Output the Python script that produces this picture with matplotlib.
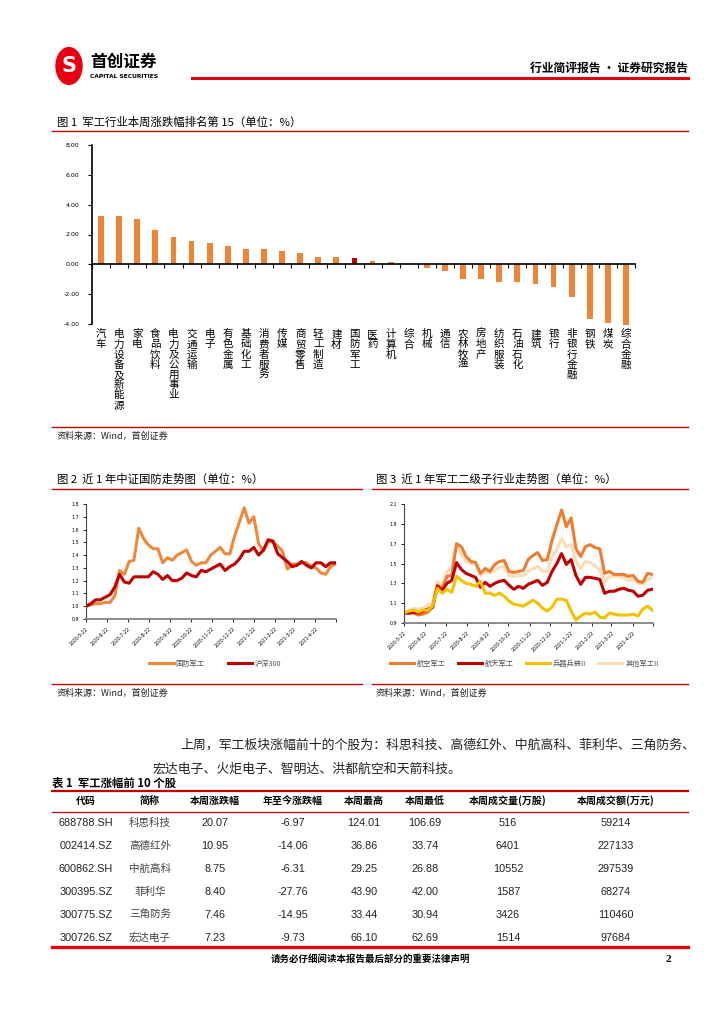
import numpy as np
import matplotlib
matplotlib.use('Agg')
import matplotlib.pyplot as plt
from matplotlib.lines import Line2D
from matplotlib.patches import Circle
import datetime as dt

plt.rcParams['font.family'] = ['Noto Sans CJK SC', 'DejaVu Sans']
plt.rcParams['axes.unicode_minus'] = False

# ---- 数据 ----
# 图1 行业周涨跌幅
industries = ['汽车', '电力设备及新能源', '家电', '食品饮料', '电力及公用事业', '交通运输', '电子',
              '有色金属', '基础化工', '消费者服务', '传媒', '商贸零售', '轻工制造', '建材', '国防军工',
              '医药', '计算机', '综合', '机械', '通信', '农林牧渔', '房地产', '纺织服装', '石油石化',
              '建筑', '银行', '非银行金融', '钢铁', '煤炭', '综合金融']
weekly_change = [3.27, 3.21, 3.01, 2.27, 1.85, 1.54, 1.43, 1.25, 1.02, 1.00, 0.91, 0.78, 0.51, 0.51,
                 0.45, 0.20, 0.16, 0.05, -0.22, -0.47, -0.98, -1.00, -1.18, -1.20, -1.33, -1.51,
                 -2.16, -3.64, -3.91, -4.07]
highlight = '国防军工'
bar_ticks = [8, 6, 4, 2, 0, -2, -4]

# 图2 近1年中证国防 vs 沪深300（周度）
guofang = [1.00, 1.01, 1.02, 1.02, 1.03, 1.03, 1.08, 1.28, 1.25, 1.35, 1.36, 1.61, 1.53, 1.48,
           1.45, 1.45, 1.34, 1.38, 1.36, 1.40, 1.42, 1.44, 1.35, 1.32, 1.34, 1.34, 1.40, 1.43,
           1.46, 1.41, 1.41, 1.55, 1.66, 1.77, 1.65, 1.70, 1.49, 1.43, 1.51, 1.50, 1.47, 1.43,
           1.29, 1.33, 1.33, 1.34, 1.34, 1.31, 1.30, 1.26, 1.25, 1.31, 1.33]
hs300 = [1.00, 1.02, 1.05, 1.05, 1.07, 1.09, 1.15, 1.25, 1.19, 1.18, 1.23, 1.23, 1.23, 1.23,
         1.27, 1.25, 1.21, 1.24, 1.20, 1.20, 1.22, 1.26, 1.24, 1.23, 1.28, 1.27, 1.29, 1.31,
         1.33, 1.28, 1.31, 1.33, 1.37, 1.43, 1.43, 1.46, 1.40, 1.44, 1.52, 1.51, 1.41, 1.38,
         1.35, 1.31, 1.32, 1.35, 1.32, 1.30, 1.34, 1.34, 1.31, 1.34, 1.34]

# 图3 军工二级子行业（周度）
hangkong = [1.00, 1.00, 1.00, 0.98, 0.99, 1.01, 1.06, 1.28, 1.25, 1.37, 1.38, 1.70, 1.67, 1.57,
            1.52, 1.51, 1.40, 1.45, 1.42, 1.49, 1.52, 1.53, 1.42, 1.41, 1.42, 1.43, 1.54, 1.58,
            1.61, 1.53, 1.54, 1.73, 1.89, 2.04, 1.87, 1.96, 1.65, 1.57, 1.67, 1.69, 1.66, 1.65,
            1.40, 1.42, 1.39, 1.39, 1.39, 1.37, 1.38, 1.32, 1.31, 1.40, 1.39]
hangtian = [1.00, 1.00, 1.01, 1.00, 1.02, 1.04, 1.06, 1.27, 1.23, 1.30, 1.33, 1.51, 1.44, 1.40,
            1.38, 1.36, 1.26, 1.31, 1.27, 1.30, 1.32, 1.33, 1.28, 1.24, 1.27, 1.25, 1.29, 1.31,
            1.33, 1.28, 1.31, 1.42, 1.50, 1.60, 1.49, 1.54, 1.38, 1.29, 1.36, 1.36, 1.35, 1.34,
            1.20, 1.22, 1.22, 1.24, 1.25, 1.23, 1.22, 1.17, 1.18, 1.23, 1.24]
bingqi = [1.00, 1.02, 1.03, 1.01, 1.03, 1.03, 1.07, 1.25, 1.20, 1.24, 1.21, 1.37, 1.33, 1.30,
          1.29, 1.27, 1.32, 1.20, 1.20, 1.18, 1.20, 1.17, 1.12, 1.09, 1.08, 1.07, 1.10, 1.13,
          1.10, 1.05, 1.02, 1.06, 1.14, 1.14, 1.13, 1.02, 0.93, 0.97, 1.00, 0.99, 1.01, 0.96,
          0.95, 1.00, 0.99, 0.98, 0.98, 0.98, 0.99, 0.97, 1.04, 1.07, 1.03]
qita = [1.00, 1.02, 1.05, 1.04, 1.05, 1.08, 1.11, 1.32, 1.28, 1.42, 1.45, 1.70, 1.60, 1.52,
        1.50, 1.50, 1.38, 1.42, 1.40, 1.43, 1.46, 1.47, 1.38, 1.37, 1.38, 1.38, 1.42, 1.45,
        1.47, 1.42, 1.42, 1.57, 1.64, 1.75, 1.67, 1.69, 1.52, 1.45, 1.52, 1.51, 1.48, 1.43,
        1.31, 1.37, 1.37, 1.37, 1.36, 1.33, 1.34, 1.30, 1.29, 1.33, 1.36]

start_date = dt.date(2020, 5, 22)
dates = [start_date + dt.timedelta(days=7 * i) for i in range(len(guofang))]
month_ticks = [dt.date(2020 + (4 + m) // 12, (4 + m) % 12 + 1, 22) for m in range(13)]
month_labels = ['%d-%d-22' % (d.year, d.month) for d in month_ticks[:-1]] + ['']

# 表1 军工涨幅前10个股
col_names = ['代码', '简称', '本周涨跌幅', '年至今涨跌幅', '本周最高', '本周最低', '本周成交量(万股)', '本周成交额(万元)']
codes = ['688788.SH', '002414.SZ', '600862.SH', '300395.SZ', '300775.SZ', '300726.SZ']
names = ['科思科技', '高德红外', '中航高科', '菲利华', '三角防务', '宏达电子']
chg_week = ['20.07', '10.95', '8.75', '8.40', '7.46', '7.23']
chg_ytd = ['-6.97', '-14.06', '-6.31', '-27.76', '-14.95', '-9.73']
high_week = ['124.01', '36.86', '29.25', '43.90', '33.44', '66.10']
low_week = ['106.69', '33.74', '26.88', '42.00', '30.94', '62.69']
volume = ['516', '6401', '10552', '1587', '3426', '1514']
amount = ['59214', '227133', '297539', '68274', '110460', '97684']

# ---- 页面 ----
W, H = 724, 1024
RED = '#C00000'
ORANGE = '#EE8535'
fig = plt.figure(figsize=(W / 100, H / 100), dpi=100)


def fx(x):
    return x / W


def fy(y):
    return 1 - y / H


def txt(x, y, s, **kw):
    fig.text(fx(x), fy(y), s, **kw)


def hline(x0, x1, y, lw, color=RED):
    fig.add_artist(Line2D([fx(x0), fx(x1)], [fy(y), fy(y)], lw=lw, color=color,
                          transform=fig.transFigure))


def box(left, top, right, bottom):
    return fig.add_axes([fx(left), fy(bottom), (right - left) / W, (bottom - top) / H])


# 页眉
fig.add_artist(Circle((fx(69), fy(66)), 13 / W, transform=fig.transFigure, color='#E60012'))
txt(69, 66, 'S', color='white', fontsize=15, fontweight='bold', ha='center', va='center',
    family=['DejaVu Sans'])
txt(90, 62, '首创证券', fontsize=12, fontweight='bold', va='center')
txt(90, 76, 'CAPITAL SECURITIES', fontsize=4.3, fontweight='bold', va='center', family=['DejaVu Sans'])
hline(192, 688, 78, 2.2, '#E60012')
txt(688, 68, '行业简评报告 · 证券研究报告', fontsize=8.5, fontweight='bold', ha='right', va='center')

# 图1
txt(57, 122, '图 1  军工行业本周涨跌幅排名第 15（单位：%）', fontsize=8.2, va='center')
hline(52, 688, 131, 1.0)
ax1 = box(92, 145, 635, 324)
x = np.arange(len(industries))
colors = [RED if c == highlight else ORANGE for c in industries]
ax1.bar(x, weekly_change, width=0.32, color=colors, clip_on=False)
ax1.set_xlim(-0.5, len(industries) - 0.5)
ax1.set_ylim(-4, 8)
ax1.set_yticks(bar_ticks)
ax1.set_yticklabels(['%.2f' % v for v in bar_ticks], fontsize=4.5, family=['DejaVu Sans'])
ax1.spines['bottom'].set_position(('data', 0))
for s in ['top', 'right']:
    ax1.spines[s].set_visible(False)
ax1.spines['left'].set_linewidth(1.2)
ax1.spines['bottom'].set_linewidth(1.2)
ax1.set_xticks(np.arange(len(industries) + 1) - 0.5)
ax1.set_xticklabels([])
ax1.tick_params(axis='x', direction='out', length=3, width=0.8)
ax1.tick_params(axis='y', direction='out', length=3, width=0.8, pad=6)
for i, name in enumerate(industries):
    ax1.text(i, -4.35, '\n'.join(name), ha='center', va='top', fontsize=7.6, linespacing=1.02)
hline(52, 688, 427, 1.0)
txt(57, 436, '资料来源：Wind，首创证券', fontsize=6.5, style='italic', va='center', color='#222222')


def line_panel(ax, series, cols, yticks, ylim):
    for s, c in zip(series, cols):
        ax.plot(dates, s, color=c, lw=2.2, solid_joinstyle='round')
    ax.set_xlim(dates[0], month_ticks[-1])
    ax.set_ylim(*ylim)
    ax.set_yticks(yticks)
    ax.set_yticklabels(['%.1f' % v for v in yticks], fontsize=3.4, family=['DejaVu Sans'])
    ax.set_xticks(month_ticks)
    ax.set_xticklabels(month_labels, fontsize=3.3, rotation=45, ha='right', va='top',
                       rotation_mode='anchor', family=['DejaVu Sans'])
    for s in ['top', 'right']:
        ax.spines[s].set_visible(False)
    ax.spines['left'].set_color('#444444')
    ax.spines['bottom'].set_color('#777777')
    ax.spines['bottom'].set_linewidth(1.2)
    ax.tick_params(axis='both', length=2, width=0.6, pad=3)


# 图2
txt(57, 479, '图 2  近 1 年中证国防走势图（单位：%）', fontsize=8.2, va='center')
hline(52, 362, 489, 1.0)
ax2 = box(86, 504, 336, 619)
line_panel(ax2, [guofang, hs300], ['#F0883A', RED], np.arange(0.9, 1.81, 0.1), (0.9, 1.8))
h2 = [Line2D([], [], color='#F0883A', lw=2.2), Line2D([], [], color=RED, lw=2.2)]
fig.legend(h2, ['国防军工', '沪深300'], loc='center', bbox_to_anchor=(fx(215), fy(664)), ncol=2,
           frameon=False, fontsize=5.2, handlelength=3.4, columnspacing=3.2, handletextpad=0.3,
           labelcolor='#555555')
hline(52, 362, 684, 1.0)
txt(57, 693, '资料来源：Wind，首创证券', fontsize=6.5, style='italic', va='center', color='#222222')

# 图3
txt(376, 479, '图 3  近 1 年军工二级子行业走势图（单位：%）', fontsize=8.2, va='center')
hline(372, 688, 489, 1.0)
ax3 = box(404, 504, 653, 623)
labels3 = ['航空军工', '航天军工', '兵器兵装II', '其他军工II']
cols3 = ['#ED7D31', RED, '#F2C100', '#FADDB8']
line_panel(ax3, [qita, hangkong, hangtian, bingqi], [cols3[3], cols3[0], cols3[1], cols3[2]],
           np.arange(0.9, 2.11, 0.2), (0.9, 2.1))
h3 = [Line2D([], [], color=c, lw=2.2) for c in cols3]
fig.legend(h3, labels3, loc='center', bbox_to_anchor=(fx(524), fy(664)), ncol=4, frameon=False,
           fontsize=5.2, handlelength=3.4, columnspacing=1.6, handletextpad=0.4, labelcolor='#555555')
hline(372, 688, 684, 1.0)
txt(376, 693, '资料来源：Wind，首创证券', fontsize=6.5, style='italic', va='center', color='#222222')

# 正文
txt(180, 745, '上周，军工板块涨幅前十的个股为：科思科技、高德红外、中航高科、菲利华、三角防务、',
    fontsize=9.3, va='center', color='#222222')
txt(152, 769, '宏达电子、火炬电子、智明达、洪都航空和天箭科技。', fontsize=9.3, va='center', color='#222222')

# 表1
txt(52, 783, '表 1  军工涨幅前 10 个股', fontsize=8.2, fontweight='bold', va='center')
hline(52, 688, 791, 1.6)
col_x = [86, 150, 215, 293, 364, 425, 508, 616]
for cx, name in zip(col_x, col_names):
    txt(cx, 801, name, fontsize=7.2, fontweight='bold', ha='center', va='center')
hline(52, 688, 812, 0.9)
rows = list(zip(codes, names, chg_week, chg_ytd, high_week, low_week, volume, amount))
for r, row in enumerate(rows):
    y = 823 + 23 * r
    for c, (cx, val) in enumerate(zip(col_x, row)):
        if c == 1:
            txt(cx, y, val, fontsize=7.6, ha='center', va='center', color='#444444')
        else:
            txt(cx, y, val, fontsize=7.8, ha='center', va='center', color='#222222',
                family=['Liberation Sans'])

# 页脚
hline(52, 688, 947, 2.4, '#E60012')
txt(370, 959, '请务必仔细阅读本报告最后部分的重要法律声明', fontsize=6.8, fontweight='bold', ha='center',
    va='center')
txt(668, 959, '2', fontsize=8, fontweight='bold', ha='center', va='center', family=['Liberation Serif'])

fig.savefig('out.png', dpi=100)
